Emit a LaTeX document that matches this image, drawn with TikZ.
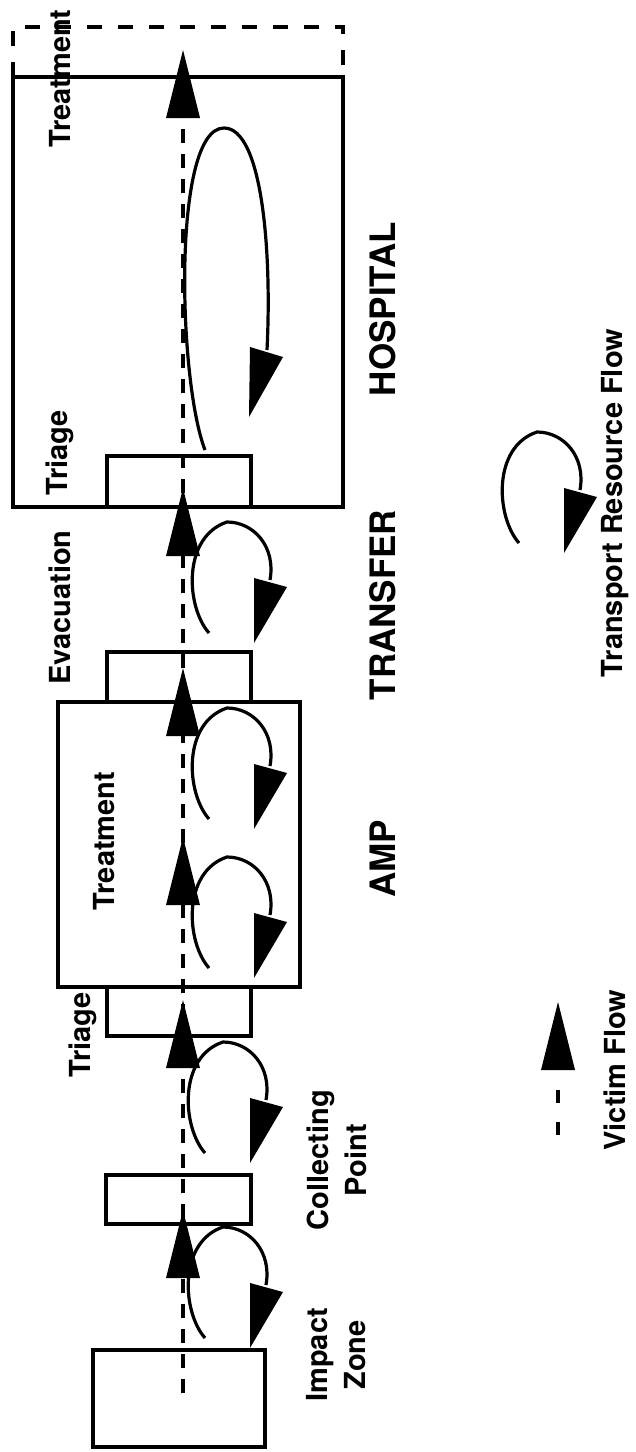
\documentclass[tikz,border=0pt]{standalone}
\usepackage{fontspec}
\setmainfont{TeX Gyre Heros}
\usepackage{tikz}
\tikzset{box/.style={draw,line width=3.3pt,inner sep=0pt,outer sep=0pt},
  lbl/.style={rotate=90,font=\fontsize{29}{38}\selectfont\bfseries,align=center,inner sep=0pt},
  stage/.style={rotate=90,font=\fontsize{35}{40}\selectfont\bfseries,inner sep=0pt},
  vflow/.style={line width=3.3pt,dash pattern=on 14pt off 11pt}}
\newcommand{\vtip}[2]{\fill (#1,#2) -- ++(-17,68) -- ++(34,0) -- cycle;}
\newcommand{\rloop}[2]{\begin{scope}[shift={(#1,#2)}] \draw[line width=3.2pt] (-18,111) .. controls (-41,85) and (-45,15) .. (0,0) .. controls (27,0) and (49,25) .. (43,58); \fill (27,56) -- (60,65) -- (27,121) -- cycle; \end{scope}}

\begin{document}
\begin{tikzpicture}[x=1pt,y=-1pt]
\useasboundingbox (0,0) rectangle (636,1452);
\node[box,minimum width=330,minimum height=430] (hosp) at (178,292) {};
\node[box,minimum width=144,minimum height=51] (htri) at (179,481.5) {};
\node[box,minimum width=144,minimum height=50] (evac) at (179,677) {};
\node[box,minimum width=242,minimum height=285] (amp) at (179,844.5) {};
\node[box,minimum width=144,minimum height=49] (atri) at (179,1011.5) {};
\node[box,minimum width=145,minimum height=49] (coll) at (178.5,1199.5) {};
\node[box,minimum width=172,minimum height=97] (imp) at (179,1398.5) {};
\draw[line width=3.3pt,dash pattern=on 15pt off 16pt] (hosp.north west) -- ++(0,-50) -| (hosp.north east);
\coordinate (vbot) at (183,1393); \coordinate (vtop) at (183,60);
\draw[vflow] (vbot) -- (vtop);
\vtip{183}{50} \vtip{183}{488} \vtip{183}{668} \vtip{183}{837} \vtip{183}{1000} \vtip{183}{1210}
\draw[line width=3.2pt] (205,450) .. controls (178,380) and (172,128) .. (224,128) .. controls (262,128) and (272,250) .. (267,350);
\fill (250,347) -- (283,357) -- (249,417) -- cycle;
\rloop{227}{522} \rloop{227}{708} \rloop{227}{857} \rloop{223}{1042} \rloop{223}{1227}
\node[lbl] (htreat) at (60,78.5) {Treatment};
\node[lbl] (htriage) at (60,453) {Triage};
\node[lbl] (evaclbl) at (60,607.5) {Evacuation};
\node[lbl] (atreat) at (104.5,841) {Treatment};
\node[lbl] (atriage) at (82.5,1035) {Triage};
\node[lbl] (colllbl) at (336.5,1160) {Collecting\\Point};
\node[lbl] (implbl) at (336.5,1355) {Impact\\Zone};
\node[stage] (hosplbl) at (382.5,309) {HOSPITAL};
\node[stage] (translbl) at (382.5,605) {TRANSFER};
\node[stage] (amplbl) at (382.5,859) {AMP};
\coordinate (legbot) at (558,1135); \coordinate (legtop) at (558,1071);
\draw[line width=3.3pt,dash pattern=on 13pt off 19pt] (legbot) -- (legtop);
\vtip{558}{1002}
\node[lbl] (viclbl) at (615,1070) {Victim Flow};
\rloop{537}{432}
\node[lbl] (reslbl) at (615,503) {Transport Resource Flow};
\end{tikzpicture}
\end{document}
